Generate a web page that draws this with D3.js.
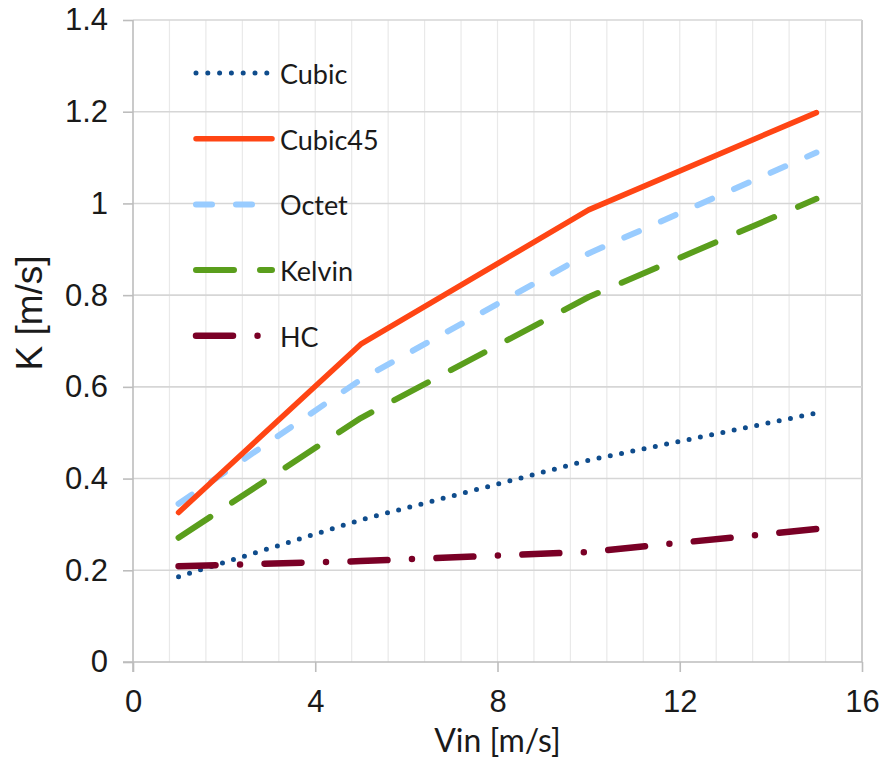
<!DOCTYPE html>
<html>
<head>
<meta charset="utf-8">
<script src="https://cdn.jsdelivr.net/npm/d3@7"></script>
<style>
  body { margin: 0; background: #fff; }
  svg { display: block; }
  .tick text { font-family: "Liberation Sans", Arial, sans-serif; fill: #1a1a1a; }
</style>
</head>
<body>
<svg id="chart" width="883" height="760"></svg>
<script>
// data
const vin = [1, 5, 10, 15];
const cubic = [0.186, 0.31, 0.44, 0.543];
const cubic45 = [0.326, 0.693, 0.986, 1.198];
const octet = [0.345, 0.616, 0.891, 1.111];
const kelvin = [0.271, 0.532, 0.796, 1.01];
const hc = [0.209, 0.22, 0.24, 0.29];

const xTicks = [0, 4, 8, 12, 16];
const yTicks = [0, 0.2, 0.4, 0.6, 0.8, 1, 1.2, 1.4];

const series = [
  { name: 'Cubic', values: cubic, color: '#0f4c8c', width: 5, dash: '0 11.5' },
  { name: 'Cubic45', values: cubic45, color: '#ff4514', width: 5.5, dash: null },
  { name: 'Octet', values: octet, color: '#99ccff', width: 6, dash: '16 24' },
  { name: 'Kelvin', values: kelvin, color: '#5a9e1c', width: 6, dash: '38 26' },
  { name: 'HC', values: hc, color: '#7a0026', width: 6.5, dash: '37 24.5 0 24.5' }
];
// drawing order: Octet under Cubic45, HC over Cubic
const drawOrder = ['Octet', 'Cubic', 'Cubic45', 'Kelvin', 'HC'];

const width = 883,
  height = 760,
  margin = { top: 20, right: 21, bottom: 98, left: 133 };

const svg = d3.select('#chart');

const x = d3.scaleLinear().domain([0, 16]).range([margin.left, width - margin.right]);
const y = d3.scaleLinear().domain([0, 1.4]).range([height - margin.bottom, margin.top]);

// vertical grid, minor every 0.8
const grid = svg.append('g').attr('class', 'grid');
grid.selectAll('line.vminor')
  .data(d3.range(0, 81).map(i => i * 0.8).filter(v => v > 0 && v < 16.01))
  .join('line')
  .attr('x1', d => x(d)).attr('x2', d => x(d))
  .attr('y1', y(0)).attr('y2', y(1.4))
  .attr('stroke', d => Math.abs(d - 16) < 0.01 ? '#c8c8c8' : '#e9e9e9')
  .attr('stroke-width', d => Math.abs(d - 16) < 0.01 ? 1.8 : 1.2);

// horizontal grid
grid.selectAll('line.h')
  .data(yTicks.filter(d => d > 0))
  .join('line')
  .attr('x1', x(0)).attr('x2', x(16))
  .attr('y1', d => y(d)).attr('y2', d => y(d))
  .attr('stroke', '#d6d6d6')
  .attr('stroke-width', 1.6);

// axes
const yAxis = svg.append('g')
  .attr('transform', `translate(${x(0)},0)`)
  .call(d3.axisLeft(y).tickValues(yTicks).tickSize(10).tickPadding(15)
    .tickFormat(d => String(+d.toFixed(1))));
const xAxis = svg.append('g')
  .attr('transform', `translate(0,${y(0)})`)
  .call(d3.axisBottom(x).tickValues(xTicks).tickSize(10).tickPadding(18));

[yAxis, xAxis].forEach(ax => {
  ax.select('.domain').attr('stroke', '#bdbdbd').attr('stroke-width', 1.6);
  ax.selectAll('.tick line').attr('stroke', '#bdbdbd').attr('stroke-width', 1.6);
  ax.selectAll('.tick text').attr('font-size', 31).attr('fill', '#1a1a1a');
});
yAxis.select('.domain').attr('d', `M0,${y(0) + 10}V${y(1.4)}`);
xAxis.select('.domain').attr('d', `M${x(0) - 10},0H${x(16)}`);

// series lines
const line = d3.line()
  .x((d, i) => x(vin[i]))
  .y(d => y(d));

svg.append('g').attr('class', 'lines')
  .selectAll('path')
  .data(drawOrder.map(n => series.find(s => s.name === n)))
  .join('path')
  .attr('d', d => line(d.values))
  .attr('fill', 'none')
  .attr('stroke', d => d.color)
  .attr('stroke-width', d => d.width)
  .attr('stroke-linecap', 'round')
  .attr('stroke-linejoin', 'round')
  .attr('stroke-dasharray', d => d.dash);

// legend
const legend = svg.append('g').attr('class', 'legend')
  .selectAll('g')
  .data(series)
  .join('g')
  .attr('transform', (d, i) => `translate(196,${73 + i * 65.7})`);

legend.append('line')
  .attr('x1', 0).attr('x2', d => d.name === 'Cubic' ? 71 : 76)
  .attr('y1', 0).attr('y2', 0)
  .attr('stroke', d => d.color)
  .attr('stroke-width', d => d.width)
  .attr('stroke-linecap', 'round')
  .attr('stroke-dasharray', d => d.name === 'Cubic' ? '0 11.8' : d.dash);

legend.append('text')
  .attr('x', 84)
  .attr('y', 11)
  .attr('font-family', 'Lato, "Open Sans", sans-serif')
  .attr('font-size', 27)
  .attr('fill', '#1a1a1a')
  .text(d => d.name);

// axis titles
svg.append('text')
  .attr('x', x(8))
  .attr('y', 752)
  .attr('text-anchor', 'middle')
  .attr('font-family', 'Lato, "Open Sans", sans-serif')
  .attr('font-size', 32)
  .attr('fill', '#1a1a1a')
  .text('Vin [m/s]');

svg.append('text')
  .attr('transform', 'translate(42,313) rotate(-90)')
  .attr('text-anchor', 'middle')
  .attr('font-family', '"Liberation Sans", Arial, sans-serif')
  .attr('font-size', 37)
  .attr('fill', '#1a1a1a')
  .text('K [m/s]');
</script>
</body>
</html>
